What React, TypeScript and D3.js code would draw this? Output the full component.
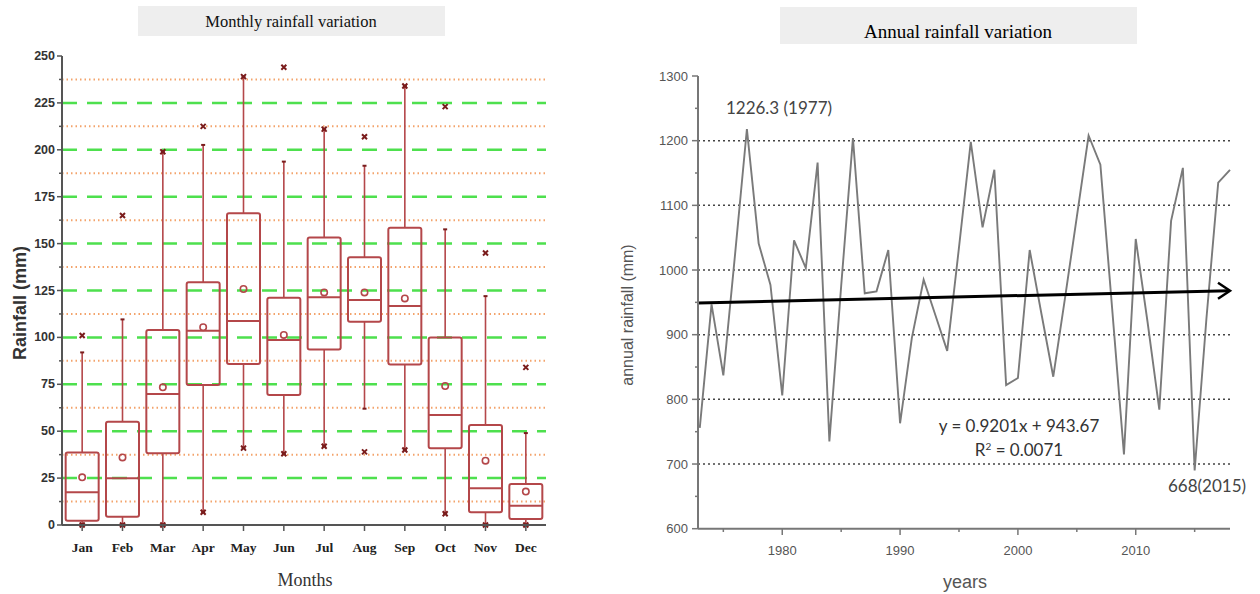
import React from 'react'
import * as d3 from 'd3'

// monthly box plot values (mm)
const months = ['Jan', 'Feb', 'Mar', 'Apr', 'May', 'Jun', 'Jul', 'Aug', 'Sep', 'Oct', 'Nov', 'Dec']
const q1 = [2.3, 4.4, 38.2, 74.6, 85.8, 69.3, 93.6, 108.4, 85.6, 40.9, 6.8, 3.2]
const median = [17.4, 24.9, 69.8, 103.6, 108.7, 98.6, 121.4, 119.9, 116.7, 58.6, 19.6, 10.3]
const q3 = [38.7, 55, 103.9, 129.4, 166.2, 121.2, 153.3, 142.7, 158.5, 100, 53.3, 21.9]
const mean = [25.4, 36, 73.4, 105.4, 125.8, 101.3, 124, 124, 120.8, 74.1, 34.3, 17.8]
const whiskerLow = [0.5, 0, 0, 6.8, 41, 38, 42, 62, 40, 6, 0, 0]
const whiskerHigh = [92, 109.6, 199, 202.6, 239, 193.7, 211, 191.5, 234, 157.6, 122, 49]
const extremeHigh = [101, 165, 199, 212.5, 239, 244, 211, 207, 234, 223, 145, 84]
const extremeLow = [0, 0, 0, 6.8, 41, 38, 42, 39, 40, 6, 0, 0]
const monthTicks = [0, 25, 50, 75, 100, 125, 150, 175, 200, 225, 250]
const monthMinor = [12.5, 37.5, 62.5, 87.5, 112.5, 137.5, 162.5, 187.5, 212.5, 237.5]

// annual totals (mm)
const years = [1973, 1974, 1975, 1976, 1977, 1978, 1979, 1980, 1981, 1982, 1983, 1984, 1985, 1986, 1987, 1988,
  1989, 1990, 1991, 1992, 1993, 1994, 1995, 1996, 1997, 1998, 1999, 2000, 2001, 2002, 2003, 2004, 2005, 2006,
  2007, 2008, 2009, 2010, 2011, 2012, 2013, 2014, 2015, 2016, 2017, 2018]
const annualRain = [756, 947, 837, 1025, 1218, 1041, 977, 806, 1046, 1003, 1166, 735, 975, 1204, 964, 967,
  1031, 763, 895, 985, 930, 875, 1035, 1198, 1066, 1155, 822, 833, 1031, 932, 835, 957, 1082, 1208,
  1163, 940, 715, 1048, 920, 784, 1076, 1158, 690, 925, 1135, 1155]
const trendYears = [1972.85, 2018]
const trendValues = [949, 968]
const annualTicks = [600, 700, 800, 900, 1000, 1100, 1200, 1300]
const annualMinor = [650, 750, 850, 950, 1050, 1150, 1250]
const annualGrid = [700, 800, 900, 1000, 1100, 1200]
const yearTicks = [1975, 1980, 1985, 1990, 1995, 2000, 2005, 2010, 2015]

const boxColor = '#b4474a'
const markColor = '#7a1c1c'

function MonthlyChart() {
  const x = d3.scaleBand().domain(months).range([62, 546]).padding(0)
  const y = d3.scaleLinear().domain([0, 250]).range([525, 56])
  const bw = 33
  const cx = (m: string) => (x(m) as number) + x.bandwidth() / 2

  const xMark = (px: number, py: number, key: string) => (
    <path key={key} d={`M${px - 2.5},${py - 2.5}L${px + 2.5},${py + 2.5}M${px - 2.5},${py + 2.5}L${px + 2.5},${py - 2.5}`}
      stroke={markColor} strokeWidth={2} />
  )

  return (
    <g>
      <rect x={138} y={6} width={307} height={30} fill="#eeeeee" />
      <text x={291} y={27} textAnchor="middle" fontFamily="'Liberation Serif', serif" fontSize={16.5} fill="#111">
        Monthly rainfall variation
      </text>

      {monthMinor.map(v => (
        <line key={'o' + v} x1={62} x2={546} y1={y(v)} y2={y(v)} stroke="#f3a36b" strokeWidth={2} strokeDasharray="1.5,3" />
      ))}
      {monthTicks.filter(v => v > 0 && v < 250).map(v => (
        <line key={'g' + v} x1={62} x2={546} y1={y(v)} y2={y(v)} stroke="#4ee04e" strokeWidth={2.5} strokeDasharray="15,10" />
      ))}

      {months.map((m, i) => {
        const c = cx(m)
        return (
          <g key={m}>
            <line x1={c} x2={c} y1={y(q3[i])} y2={y(whiskerHigh[i])} stroke={boxColor} strokeWidth={1.6} />
            <line x1={c} x2={c} y1={y(q1[i])} y2={y(whiskerLow[i])} stroke={boxColor} strokeWidth={1.6} />
            <line x1={c - 2} x2={c + 2} y1={y(whiskerHigh[i])} y2={y(whiskerHigh[i])} stroke={markColor} strokeWidth={2} />
            <line x1={c - 2} x2={c + 2} y1={y(whiskerLow[i])} y2={y(whiskerLow[i])} stroke={markColor} strokeWidth={2} />
            <rect x={c - bw / 2} y={y(q3[i])} width={bw} height={y(q1[i]) - y(q3[i])} rx={2}
              fill="none" stroke={boxColor} strokeWidth={2} />
            <line x1={c - bw / 2} x2={c + bw / 2} y1={y(median[i])} y2={y(median[i])} stroke={boxColor} strokeWidth={2} />
            <circle cx={c} cy={y(mean[i])} r={3.2} fill="none" stroke={boxColor} strokeWidth={1.6} />
            {xMark(c, y(extremeHigh[i]), 'h')}
            {xMark(c, y(extremeLow[i]), 'l')}
          </g>
        )
      })}

      <line x1={62} x2={62} y1={525} y2={56} stroke="#555" strokeWidth={2} />
      <line x1={62} x2={546} y1={525} y2={525} stroke="#555" strokeWidth={2} />
      {monthTicks.map(v => (
        <g key={'t' + v}>
          <line x1={57} x2={62} y1={y(v)} y2={y(v)} stroke="#555" strokeWidth={1.5} />
          <text x={55} y={y(v) + 4} textAnchor="end" fontFamily="'Liberation Sans Narrow', 'Liberation Sans', sans-serif"
            fontWeight="bold" fontSize={12.5} fill="#333">{v}</text>
        </g>
      ))}
      {monthMinor.map(v => (
        <line key={'mt' + v} x1={59} x2={62} y1={y(v)} y2={y(v)} stroke="#555" strokeWidth={1.5} />
      ))}
      {months.map(m => (
        <g key={'xt' + m}>
          <line x1={cx(m)} x2={cx(m)} y1={525} y2={531} stroke="#555" strokeWidth={1.5} />
          <text x={cx(m)} y={552} textAnchor="middle" fontFamily="'Liberation Serif', serif" fontWeight="bold"
            fontSize={13.5} fill="#222">{m}</text>
        </g>
      ))}
      <text x={305} y={586} textAnchor="middle" fontFamily="'Liberation Serif', serif" fontSize={18} fill="#333">Months</text>
      <text transform="translate(26,303) rotate(-90)" textAnchor="middle" fontFamily="'Liberation Sans', Arial, sans-serif"
        fontWeight="bold" fontSize={18} fill="#333">Rainfall (mm)</text>
    </g>
  )
}

function AnnualChart() {
  const x = d3.scaleLinear().domain([1972.85, 2018]).range([698, 1230])
  const y = d3.scaleLinear().domain([600, 1300]).range([528.7, 76])
  const line = d3.line<number>().x((_, i) => x(years[i])).y(d => y(d))
  const ax = x(trendYears[1])
  const ay = y(trendValues[1])
  const font = "'Liberation Sans', Arial, sans-serif"
  const noteFont = "Lato, 'Open Sans', sans-serif"

  return (
    <g>
      <rect x={780} y={7} width={357} height={37} fill="#eeeeee" />
      <text x={958} y={38} textAnchor="middle" fontFamily="'Liberation Serif', serif" fontSize={19} fill="#000">
        Annual rainfall variation
      </text>

      {annualGrid.map(v => (
        <line key={'g' + v} x1={698} x2={1230} y1={y(v)} y2={y(v)} stroke="#444" strokeWidth={1.5} strokeDasharray="2,3" />
      ))}

      <path d={line(annualRain) || ''} fill="none" stroke="#7a7a7a" strokeWidth={1.9} strokeLinejoin="miter" />

      <line x1={x(trendYears[0])} x2={ax - 1} y1={y(trendValues[0])} y2={ay} stroke="#000" strokeWidth={3} />
      <path d={`M${ax - 12},${ay - 8}L${ax},${ay}L${ax - 12},${ay + 8}`} fill="none" stroke="#000" strokeWidth={2.5} />

      <line x1={698} x2={698} y1={528.7} y2={76} stroke="#777" strokeWidth={2} />
      <line x1={698} x2={1230} y1={528.7} y2={528.7} stroke="#777" strokeWidth={2} />
      {annualTicks.map(v => (
        <g key={'t' + v}>
          <line x1={692} x2={698} y1={y(v)} y2={y(v)} stroke="#777" strokeWidth={1.5} />
          <text x={688} y={y(v) + 4.5} textAnchor="end" fontFamily={font} fontSize={13} fill="#555">{v}</text>
        </g>
      ))}
      {annualMinor.map(v => (
        <line key={'m' + v} x1={695} x2={698} y1={y(v)} y2={y(v)} stroke="#777" strokeWidth={1.5} />
      ))}
      {yearTicks.map(v => (
        <g key={'yt' + v}>
          <line x1={x(v)} x2={x(v)} y1={528.7} y2={v % 10 === 0 ? 535 : 532} stroke="#777" strokeWidth={1.5} />
          {v % 10 === 0 && (
            <text x={x(v)} y={555} textAnchor="middle" fontFamily={font} fontSize={13} fill="#555">{v}</text>
          )}
        </g>
      ))}

      <text x={779} y={114} textAnchor="middle" fontFamily={noteFont} fontSize={17} fill="#444">
        1226.3 (1977)
      </text>
      <text x={1207} y={492} textAnchor="middle" fontFamily={noteFont} fontSize={17} fill="#444">
        668(2015)
      </text>
      <text x={1019} y={432} textAnchor="middle" fontFamily={noteFont} fontSize={17} fill="#333">
        y = 0.9201x + 943.67
      </text>
      <text x={1019} y={456} textAnchor="middle" fontFamily={noteFont} fontSize={17} fill="#333">
        R<tspan dy={-6} fontSize={10}>2</tspan><tspan dy={6}> = 0.0071</tspan>
      </text>
      <text x={965} y={588} textAnchor="middle" fontFamily={font} fontSize={18} fill="#555">years</text>
      <text transform="translate(633,315) rotate(-90)" textAnchor="middle" fontFamily={font} fontSize={16} fill="#555">
        annual rainfall (mm)
      </text>
    </g>
  )
}

export default function App() {
  return (
    <svg width={1260} height={594} style={{ position: 'absolute', left: 0, top: 0, background: '#fff' }}>
      <rect width={1260} height={594} fill="#fff" />
      <MonthlyChart />
      <AnnualChart />
    </svg>
  )
}
